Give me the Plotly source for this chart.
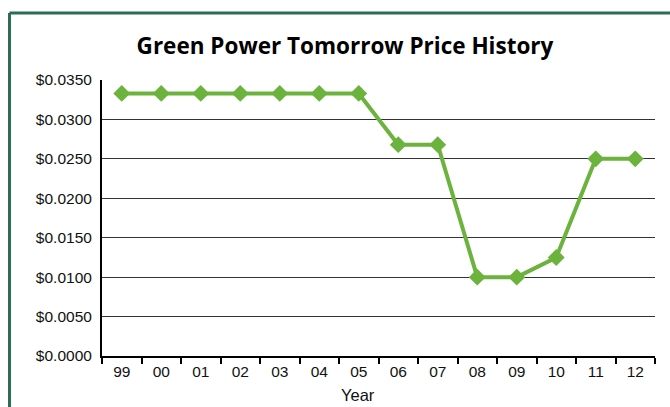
import plotly.graph_objects as go

years = ["99", "00", "01", "02", "03", "04", "05", "06", "07", "08", "09", "10", "11", "12"]
prices = [0.0333, 0.0333, 0.0333, 0.0333, 0.0333, 0.0333, 0.0333,
          0.0268, 0.0268, 0.0100, 0.0100, 0.0125, 0.0250, 0.0250]
y_ticks = [0.0, 0.005, 0.010, 0.015, 0.020, 0.025, 0.030, 0.035]
y_tick_labels = ["$%.4f" % v for v in y_ticks]

W, H = 670, 407
L, R, T, B = 102, 15, 80, 51
pw, ph = W - L - R, H - T - B

fig = go.Figure()
fig.add_trace(go.Scatter(
    x=years, y=prices, mode="lines+markers",
    line=dict(color="#6cb33e", width=4),
    marker=dict(symbol="diamond", size=13, color="#6cb33e"),
    showlegend=False, cliponaxis=False,
))

def px_to_paper_x(px):
    return (px - L) / pw

def px_to_paper_y(py):
    return (H - B - py) / ph

bx = px_to_paper_x(9.5)
by_top = px_to_paper_y(13)
fig.add_shape(type="line", xref="paper", yref="paper",
              x0=bx, x1=bx, y0=px_to_paper_y(420), y1=by_top,
              line=dict(color="#2a6e55", width=3))
fig.add_shape(type="line", xref="paper", yref="paper",
              x0=bx, x1=px_to_paper_x(690), y0=by_top, y1=by_top,
              line=dict(color="#2a6e55", width=3))

fig.update_layout(
    width=W, height=H,
    margin=dict(l=L, r=R, t=T, b=B),
    paper_bgcolor="white", plot_bgcolor="white",
    font=dict(family="Liberation Sans, Arial, sans-serif", size=15.5, color="#111"),
    title=dict(text="<b>Green Power Tomorrow Price History</b>",
               x=345 / W, xanchor="center", y=1 - 46 / H, yanchor="middle",
               font=dict(family="Open Sans, Liberation Sans, sans-serif", size=22.5, color="#000")),
    xaxis=dict(
        type="category", range=[-0.5, 13.5],
        tickson="boundaries", ticks="outside", ticklen=6, tickwidth=2, tickcolor="#000",
        showline=True, linecolor="#000", linewidth=2,
        showgrid=False, tickfont=dict(size=15.5),
    ),
    yaxis=dict(
        range=[0, 0.035], tickvals=y_ticks, ticktext=y_tick_labels,
        showline=True, linecolor="#000", linewidth=2,
        showgrid=True, gridcolor="#333", gridwidth=1,
        ticks="", zeroline=False, tickfont=dict(size=15.5),
        ticklabelstandoff=5,
    ),
    annotations=[dict(text="Year", xref="paper", yref="paper",
                      x=px_to_paper_x(358), y=px_to_paper_y(395),
                      xanchor="center", yanchor="middle", showarrow=False,
                      font=dict(size=16.5))],
)
fig.write_html("out.html", config={"displayModeBar": False},
               post_script="document.body.style.margin='0';document.body.style.overflow='hidden';")
